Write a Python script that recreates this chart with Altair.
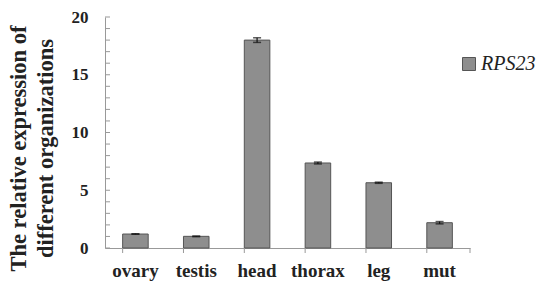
import altair as alt
import pandas as pd

tissues = ["ovary", "testis", "head", "thorax", "leg", "mut"]
values = [1.21, 1.01, 18.0, 7.36, 5.65, 2.19]
errors = [0.03, 0.03, 0.2, 0.08, 0.05, 0.1]
minor_ticks = list(range(0, 21))
y_labels = [0, 5, 10, 15, 20]
series = "RPS23"

df = pd.DataFrame({"tissue": tissues, "value": values, "err": errors})
df["lo"] = df["value"] - df["err"]
df["hi"] = df["value"] + df["err"]
df["series"] = series
ticks_df = pd.DataFrame({"t": minor_ticks})

W, H = 365, 231
FONT = "'Times New Roman', 'Liberation Serif', serif"
TXT = "#222222"
AX = "#999999"

xscale = alt.Scale(domain=tissues, paddingInner=0.58, paddingOuter=0.29)
yscale = alt.Scale(domain=[0, 20], nice=False)

x_axis = alt.Axis(title=None, labelAngle=0, ticks=False, domainColor=AX,
                  labelFont=FONT, labelFontWeight="bold", labelFontSize=19,
                  labelColor=TXT, labelPadding=13)
y_axis = alt.Axis(title=["The relative expression of", "different organizations"],
                  values=y_labels, ticks=False, grid=False, domainColor=AX,
                  labelFont=FONT, labelFontWeight="bold", labelFontSize=17,
                  labelColor=TXT, labelPadding=17,
                  titleFont=FONT, titleFontWeight="bold", titleFontSize=22.5,
                  titleColor=TXT, titleLineHeight=27, titleX=-80, titleY=131,
                  titleAngle=-90, titleAlign="center", titleBaseline="alphabetic",
                  titleLimit=400)

bars = alt.Chart(df).mark_bar(stroke="#555555", strokeWidth=1).encode(
    x=alt.X("tissue:N", sort=tissues, scale=xscale, axis=x_axis),
    y=alt.Y("value:Q", scale=yscale, axis=y_axis),
    color=alt.Color("series:N", scale=alt.Scale(range=["#8e8e8e"]),
                    legend=alt.Legend(title=None, orient="none", legendX=354, legendY=37,
                                      symbolType="square", symbolSize=169,
                                      symbolStrokeColor="#555555", symbolStrokeWidth=1,
                                      labelFont=FONT, labelFontStyle="italic",
                                      labelFontSize=20, labelColor=TXT, labelOffset=2,
                                      labelLimit=200, padding=0)),
)

err_rule = alt.Chart(df).mark_rule(color="#111111", strokeWidth=1.2).encode(
    x=alt.X("tissue:N", sort=tissues, scale=xscale),
    y=alt.Y("lo:Q", scale=yscale),
    y2="hi:Q",
)
cap_hi = alt.Chart(df).mark_tick(color="#111111", thickness=1.5, size=8).encode(
    x=alt.X("tissue:N", sort=tissues, scale=xscale),
    y=alt.Y("hi:Q", scale=yscale),
)
cap_lo = alt.Chart(df).mark_tick(color="#111111", thickness=1.5, size=8).encode(
    x=alt.X("tissue:N", sort=tissues, scale=xscale),
    y=alt.Y("lo:Q", scale=yscale),
)

x_ticks = alt.Chart(df).mark_rule(color=AX, strokeWidth=1).encode(
    x=alt.X("tissue:N", sort=tissues, scale=xscale, bandPosition=0),
    y=alt.value(H), y2=alt.value(H + 5),
)
x_end_tick = alt.Chart(df.head(1)).mark_rule(color=AX, strokeWidth=1).encode(
    x=alt.value(W), y=alt.value(H), y2=alt.value(H + 5),
)
y_ticks = alt.Chart(ticks_df).mark_rule(color=AX, strokeWidth=1).encode(
    y=alt.Y("t:Q", scale=yscale),
    x=alt.value(0), x2=alt.value(5),
)

chart = alt.layer(bars, err_rule, cap_hi, cap_lo, x_ticks, x_end_tick, y_ticks).properties(
    width=W, height=H,
    autosize=alt.AutoSizeParams(type="none"),
    padding={"left": 97, "top": 9, "right": 68, "bottom": 41},
    background="white",
).configure(font=FONT).configure_view(stroke=None).configure_axis(
    labelFont=FONT, titleFont=FONT
).configure_legend(labelFont=FONT)

chart.save("out.html", embed_options={"renderer": "svg", "actions": False})
